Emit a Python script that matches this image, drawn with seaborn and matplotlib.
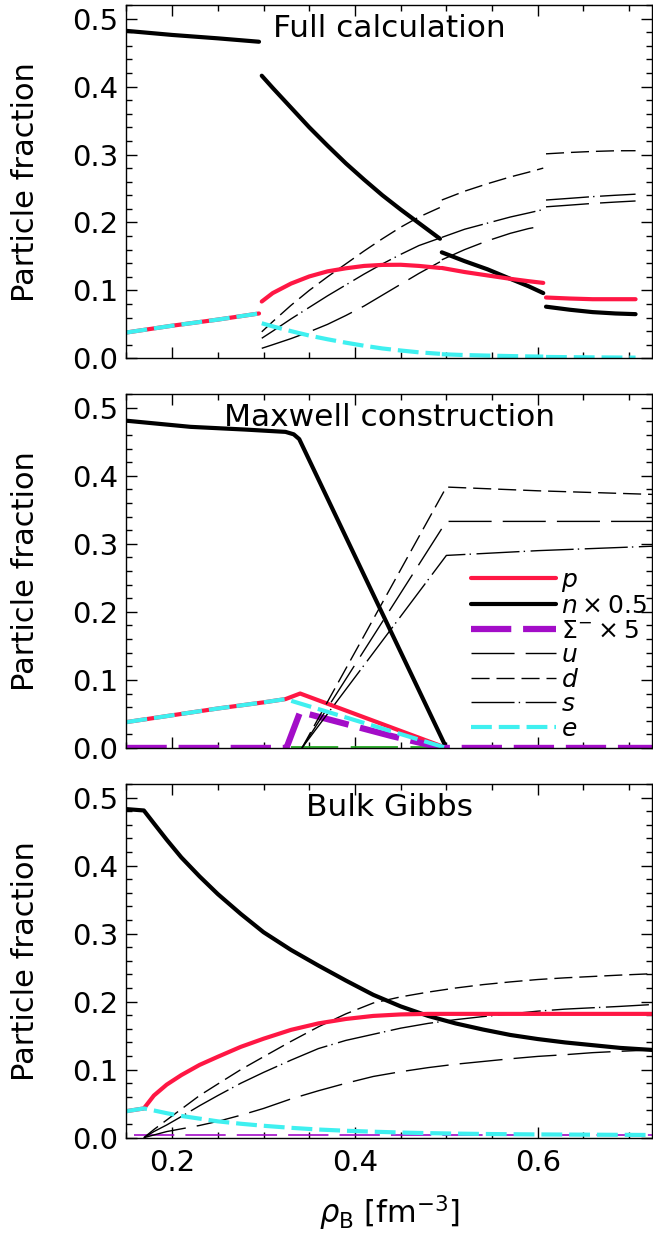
import matplotlib
matplotlib.use("Agg")
import matplotlib.pyplot as plt
import seaborn as sns
import numpy as np
from matplotlib.ticker import MultipleLocator, FormatStrFormatter

nan = np.nan

# ---- Full calculation (segments split by NaN) ----
x_full = [0.15, 0.20, 0.25, 0.295, nan,
          0.298, 0.31, 0.33, 0.35, 0.37, 0.39, 0.41, 0.43, 0.45, 0.47, 0.493, nan,
          0.495, 0.52, 0.545, 0.57, 0.59, 0.606, nan,
          0.609, 0.635, 0.66, 0.685, 0.707]
n_full = [0.482, 0.476, 0.471, 0.466, nan,
          0.416, 0.398, 0.369, 0.340, 0.313, 0.287, 0.263, 0.240, 0.219, 0.199, 0.176, nan,
          0.156, 0.143, 0.131, 0.117, 0.106, 0.096, nan,
          0.076, 0.0715, 0.068, 0.066, 0.065]
p_full = [0.038, 0.048, 0.057, 0.066, nan,
          0.0836, 0.096, 0.110, 0.1205, 0.128, 0.1325, 0.136, 0.1375, 0.1377, 0.136, 0.133, nan,
          0.133, 0.127, 0.122, 0.117, 0.1135, 0.111, nan,
          0.0895, 0.088, 0.087, 0.087, 0.087]
e_full = [0.038, 0.048, 0.057, 0.066, nan,
          0.0516, 0.047, 0.040, 0.0335, 0.028, 0.023, 0.0185, 0.0145, 0.0115, 0.0088, 0.0066, nan,
          0.006, 0.0048, 0.004, 0.0033, 0.0028, 0.0025, nan,
          0.002, 0.0017, 0.0014, 0.0012, 0.001]
d_full = [nan, nan, nan, nan, nan,
          0.039, 0.054, 0.078, 0.100, 0.120, 0.139, 0.158, 0.176, 0.193, 0.208, 0.222, nan,
          0.233, 0.246, 0.257, 0.267, 0.274, 0.280, nan,
          0.301, 0.303, 0.3045, 0.3055, 0.3056]
s_full = [nan, nan, nan, nan, nan,
          0.0295, 0.040, 0.058, 0.075, 0.092, 0.108, 0.124, 0.139, 0.153, 0.166, 0.177, nan,
          0.178, 0.190, 0.199, 0.208, 0.214, 0.219, nan,
          0.233, 0.2355, 0.238, 0.240, 0.2416]
u_full = [nan, nan, nan, nan, nan,
          0.0147, 0.020, 0.029, 0.039, 0.050, 0.063, 0.077, 0.093, 0.109, 0.125, 0.142, nan,
          0.145, 0.160, 0.173, 0.184, 0.191, 0.195, nan,
          0.223, 0.2255, 0.228, 0.230, 0.2316]

# ---- Maxwell construction ----
n_mx_x = [0.15, 0.22, 0.28, 0.324, 0.333, 0.339, 0.5]
n_mx = [0.481, 0.472, 0.468, 0.4646, 0.461, 0.454, 0.0]
p_mx_x = [0.15, 0.2, 0.25, 0.3, 0.324, 0.34, 0.5]
p_mx = [0.038, 0.048, 0.058, 0.067, 0.0718, 0.080, 0.0]
e_mx_x = [0.15, 0.2, 0.25, 0.3, 0.324, 0.5]
e_mx = [0.038, 0.048, 0.058, 0.067, 0.0718, 0.0]
sig_mx_x = [0.15, 0.325, 0.34, 0.44, 0.495, 0.725]
sig_mx = [0.0, 0.0, 0.053, 0.0175, 0.0, 0.0]
q_mx_x = [0.342, 0.5, 0.6, 0.725]
d_mx = [0.0, 0.3835, 0.378, 0.3727]
u_mx = [0.0, 0.333, 0.333, 0.333]
s_mx = [0.0, 0.283, 0.29, 0.2965]
other_mx_x = [0.33, 0.5]
other_mx = [0.001, 0.001]

# ---- Bulk Gibbs ----
x_bg = [0.15, 0.169, 0.18, 0.194, 0.21, 0.23, 0.25, 0.275, 0.30, 0.33, 0.36, 0.39,
        0.42, 0.45, 0.48, 0.51, 0.54, 0.57, 0.60, 0.63, 0.66, 0.69, 0.725]
n_bg = [0.483, 0.481, 0.462, 0.438, 0.412, 0.384, 0.358, 0.329, 0.302, 0.276, 0.253, 0.231,
        0.210, 0.193, 0.179, 0.168, 0.159, 0.151, 0.145, 0.140, 0.136, 0.132, 0.129]
p_bg = [0.039, 0.043, 0.062, 0.078, 0.092, 0.107, 0.119, 0.1335, 0.1455, 0.1585, 0.168, 0.1745,
        0.179, 0.1812, 0.182, 0.182, 0.182, 0.182, 0.182, 0.182, 0.182, 0.182, 0.182]
e_bg = [0.039, 0.043, 0.040, 0.036, 0.032, 0.028, 0.024, 0.0205, 0.0175, 0.0145, 0.012, 0.0102,
        0.0088, 0.0076, 0.0067, 0.006, 0.0055, 0.0051, 0.0048, 0.0046, 0.0044, 0.0042, 0.004]
d_bg = [nan, 0.0, 0.012, 0.026, 0.042, 0.062, 0.079, 0.100, 0.119, 0.1416, 0.163, 0.182,
        0.198, 0.207, 0.214, 0.22, 0.225, 0.229, 0.2325, 0.235, 0.237, 0.239, 0.241]
s_bg = [nan, 0.0, 0.009, 0.0187, 0.031, 0.047, 0.062, 0.080, 0.096, 0.114, 0.131, 0.143,
        0.152, 0.161, 0.168, 0.1735, 0.178, 0.182, 0.186, 0.189, 0.191, 0.193, 0.1957]
u_bg = [nan, 0.0, 0.004, 0.009, 0.013, 0.018, 0.024, 0.033, 0.043, 0.057, 0.069, 0.080,
        0.090, 0.097, 0.103, 0.108, 0.112, 0.116, 0.1195, 0.122, 0.125, 0.127, 0.129]
sig_bg_x = [0.158, 0.725]
sig_bg = [0.004, 0.004]

titles = ["Full calculation", "Maxwell construction", "Bulk Gibbs"]

RED = "#ff1744"
CYAN = "#3ff0f0"
PURPLE = "#a30dc8"
GREEN = "#22aa22"

sty = {
    "p": dict(color=RED, lw=3.0, linestyle="-"),
    "n": dict(color="black", lw=3.0, linestyle="-"),
    "sig": dict(color=PURPLE, lw=4.5, linestyle=(0, (29, 8.5))),
    "u": dict(color="black", lw=1.0, linestyle=(0, (31, 8))),
    "d": dict(color="black", lw=1.0, linestyle=(0, (13, 5))),
    "s": dict(color="black", lw=1.0, linestyle=(0, (31, 3, 1, 4))),
    "e": dict(color=CYAN, lw=3.0, linestyle=(0, (15, 5))),
}

sns.set_style("ticks")
plt.rcParams["font.family"] = ["DejaVu Sans"]
plt.rcParams["mathtext.fontset"] = "dejavusans"
plt.rcParams["lines.scale_dashes"] = False
for key in ["text.color", "axes.labelcolor", "xtick.color", "ytick.color", "axes.edgecolor"]:
    plt.rcParams[key] = "black"


def draw(ax, x, y, label=None, **kw):
    # plot a curve, breaking it at NaN gaps
    x = np.asarray(x, float)
    y = np.asarray(y, float)
    ok = ~(np.isnan(x) | np.isnan(y))
    idx = np.where(ok)[0]
    if len(idx) == 0:
        return
    groups = np.split(idx, np.where(np.diff(idx) != 1)[0] + 1)
    for i, g in enumerate(groups):
        sns.lineplot(x=x[g], y=y[g], ax=ax, sort=False, estimator=None,
                     label=label if i == 0 else None, legend=False, **kw)


fig = plt.figure(figsize=(6.53, 12.33), dpi=100)
ax_full = fig.add_axes([0.1937, 0.7094, 0.8048, 0.2865])
ax_mx = fig.add_axes([0.1937, 0.3934, 0.8048, 0.2869])
ax_bg = fig.add_axes([0.1937, 0.0773, 0.8048, 0.2869])

# Full calculation
draw(ax_full, x_full, u_full, **sty["u"])
draw(ax_full, x_full, d_full, **sty["d"])
draw(ax_full, x_full, s_full, **sty["s"])
draw(ax_full, x_full, n_full, **sty["n"])
draw(ax_full, x_full, p_full, **sty["p"])
draw(ax_full, x_full, e_full, **sty["e"])

# Maxwell construction
draw(ax_mx, other_mx_x, other_mx, color=GREEN, lw=1.3, linestyle=(0, (34, 9)))
draw(ax_mx, p_mx_x, p_mx, label=r"$p$", **sty["p"])
draw(ax_mx, n_mx_x, n_mx, label=r"$n\times0.5$", **sty["n"])
draw(ax_mx, sig_mx_x, sig_mx, label=r"$\Sigma^{-}\times5$", **sty["sig"])
draw(ax_mx, q_mx_x, u_mx, label=r"$u$", **sty["u"])
draw(ax_mx, q_mx_x, d_mx, label=r"$d$", **sty["d"])
draw(ax_mx, q_mx_x, s_mx, label=r"$s$", **sty["s"])
draw(ax_mx, e_mx_x, e_mx, label=r"$e$", **sty["e"])

# Bulk Gibbs
draw(ax_bg, sig_bg_x, sig_bg, color=PURPLE, lw=1.2, linestyle=(0, (29, 8)))
draw(ax_bg, x_bg, u_bg, **sty["u"])
draw(ax_bg, x_bg, d_bg, **sty["d"])
draw(ax_bg, x_bg, s_bg, **sty["s"])
draw(ax_bg, x_bg, n_bg, **sty["n"])
draw(ax_bg, x_bg, p_bg, **sty["p"])
draw(ax_bg, x_bg, e_bg, **sty["e"])

for ax, title in zip([ax_full, ax_mx, ax_bg], titles):
    ax.set_xlim(0.15, 0.725)
    ax.set_ylim(0.0, 0.52)
    ax.xaxis.set_major_locator(MultipleLocator(0.2))
    ax.xaxis.set_minor_locator(MultipleLocator(0.05))
    ax.yaxis.set_major_locator(MultipleLocator(0.1))
    ax.yaxis.set_minor_locator(MultipleLocator(0.02))
    ax.yaxis.set_major_formatter(FormatStrFormatter("%.1f"))
    ax.tick_params(which="both", direction="in", top=True, right=True, width=1.0)
    ax.tick_params(which="major", length=8, labelsize=21, pad=6)
    ax.tick_params(which="minor", length=4)
    ax.tick_params(axis="x", which="major", pad=8)
    for sp in ax.spines.values():
        sp.set_linewidth(1.0)
    ax.set_ylabel("Particle fraction", fontsize=22)
    ax.yaxis.set_label_coords(-0.165, 0.5)
    ax.set_xlabel("")
    ax.text(0.5, 0.909, title, transform=ax.transAxes, ha="center",
            va="baseline", fontsize=22.5)

ax_full.tick_params(labelbottom=False)
ax_mx.tick_params(labelbottom=False)
ax_bg.set_xlabel(r"$\rho_{\rm B}$ [fm$^{-3}$]", fontsize=22, labelpad=12)

handles, labels = ax_mx.get_legend_handles_labels()
ax_mx.legend(handles, labels, loc="upper left", bbox_to_anchor=(0.655, 0.51),
             frameon=False, fontsize=18, handlelength=3.4, handletextpad=0.2,
             labelspacing=0.02, borderpad=0, borderaxespad=0)

fig.savefig("out.png", dpi=100)
